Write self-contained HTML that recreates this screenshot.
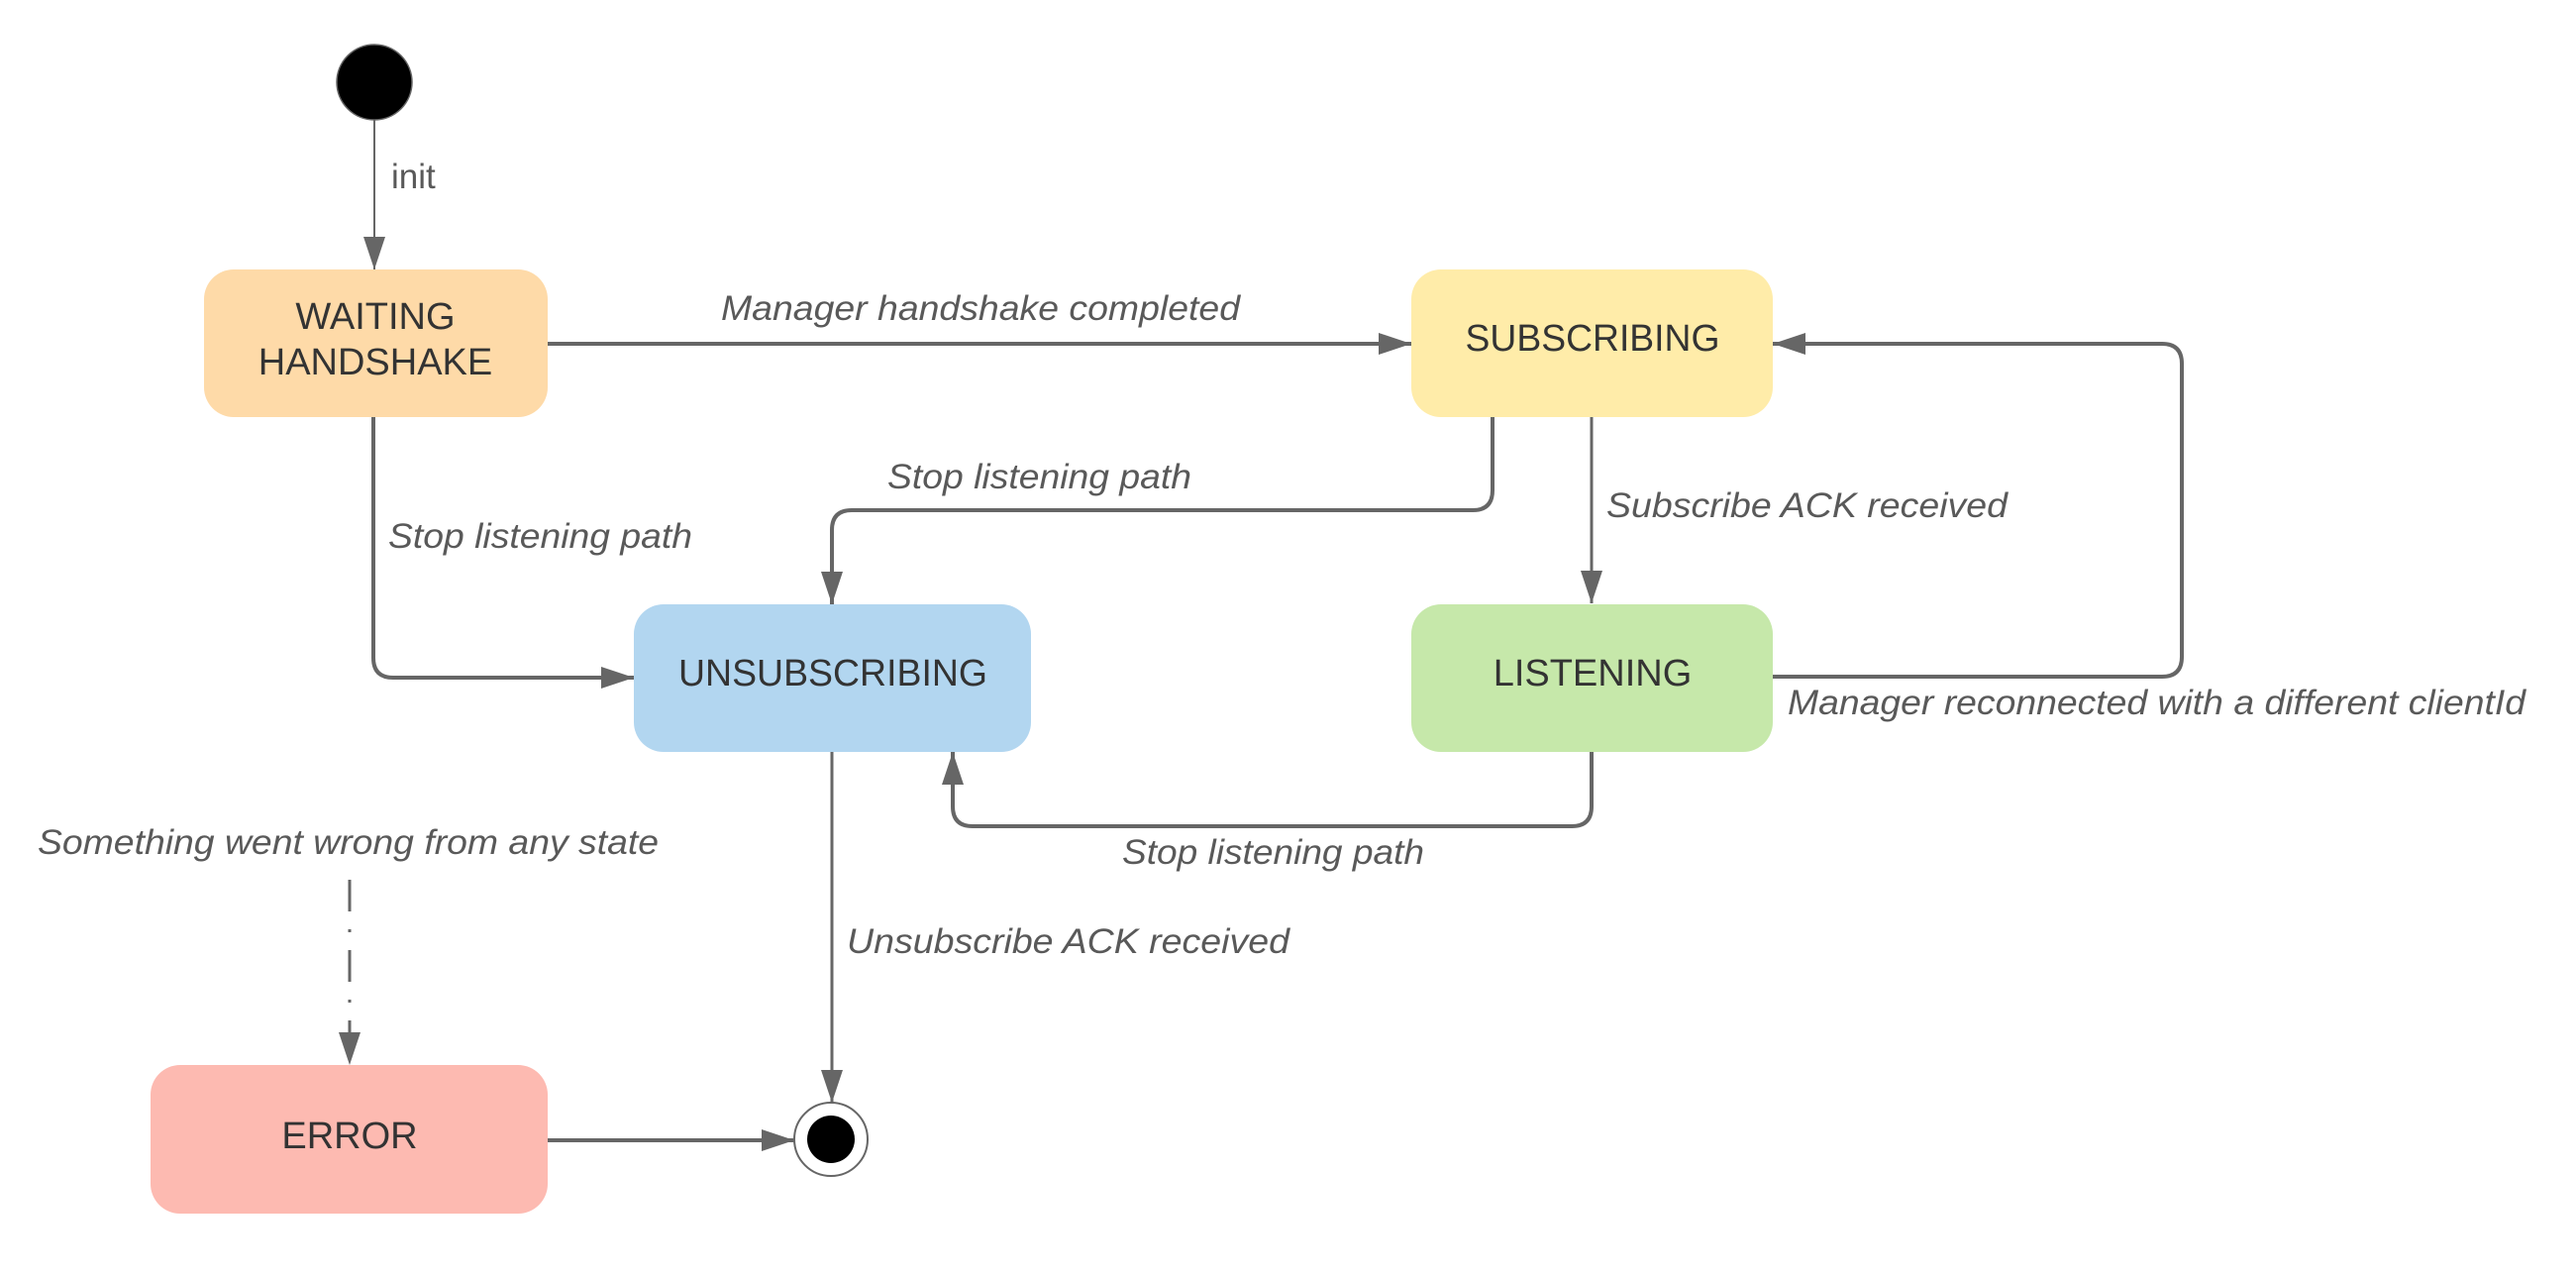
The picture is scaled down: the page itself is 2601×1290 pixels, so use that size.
<!DOCTYPE html>
<html><head><meta charset="utf-8"><style>
html,body{margin:0;padding:0;background:#fff}
svg{display:block}
.st{font-family:"Liberation Sans",sans-serif;font-size:38px;fill:#333;text-anchor:middle}
.lb{font-family:"Liberation Sans",sans-serif;font-size:35px;font-style:italic;fill:#595959}
.ln{fill:none;stroke:#666;stroke-width:4}
</style></head><body>
<svg width="2601" height="1290" viewBox="0 0 2601 1290" xmlns="http://www.w3.org/2000/svg">
<defs>
<marker id="a" viewBox="0 0 33 22" refX="33" refY="11" markerWidth="33" markerHeight="22" markerUnits="userSpaceOnUse" orient="auto">
<path d="M0,0 L33,11 L0,22 z" fill="#666"/></marker>
</defs>
<rect width="2601" height="1290" fill="#fff"/>
<rect x="206" y="272" width="347" height="149" rx="30" fill="#fedaa8"/>
<rect x="1425" y="272" width="365" height="149" rx="30" fill="#ffeca9"/>
<rect x="640" y="610" width="401" height="149" rx="30" fill="#b2d6f0"/>
<rect x="1425" y="610" width="365" height="149" rx="30" fill="#c6e8aa"/>
<rect x="152" y="1075" width="401" height="150" rx="30" fill="#fdbab1"/>
<text class="st" x="379" y="332">WAITING</text>
<text class="st" x="379" y="378">HANDSHAKE</text>
<text class="st" x="1608" y="354" textLength="257" lengthAdjust="spacingAndGlyphs">SUBSCRIBING</text>
<text class="st" x="841" y="692" textLength="312" lengthAdjust="spacingAndGlyphs">UNSUBSCRIBING</text>
<text class="st" x="1608" y="692">LISTENING</text>
<text class="st" x="353" y="1159">ERROR</text>
<circle cx="378" cy="83" r="38" fill="#000" stroke="#666" stroke-width="1.5"/>
<circle cx="839" cy="1150" r="37" fill="#fff" stroke="#666" stroke-width="2"/>
<circle cx="839" cy="1150" r="24" fill="#000"/>
<path d="M378,121 L378,272" fill="none" stroke="#666" stroke-width="2" marker-end="url(#a)"/>
<path class="ln" d="M553,347 L1425,347" marker-end="url(#a)"/>
<path class="ln" d="M377,421 L377,664 Q377,684 397,684 L640,684" marker-end="url(#a)"/>
<path class="ln" d="M1507,421 L1507,495 Q1507,515 1487,515 L860,515 Q840,515 840,535 L840,610" marker-end="url(#a)"/>
<path d="M1607,421 L1607,609" fill="none" stroke="#666" stroke-width="3" marker-end="url(#a)"/>
<path class="ln" d="M1790,683 L2183,683 Q2203,683 2203,663 L2203,367 Q2203,347 2183,347 L1790,347" marker-end="url(#a)"/>
<path class="ln" d="M1607,759 L1607,814 Q1607,834 1587,834 L982,834 Q962,834 962,814 L962,759" marker-end="url(#a)"/>
<path d="M840,759 L840,1113" fill="none" stroke="#666" stroke-width="3" marker-end="url(#a)"/>
<path d="M353,888 L353,1075" fill="none" stroke="#666" stroke-width="3" stroke-dasharray="32,18,3,18" marker-end="url(#a)"/>
<path class="ln" d="M553,1151 L802,1151" marker-end="url(#a)"/>
<text class="lb" x="395" y="190" style="font-style:normal">init</text>
<text class="lb" x="728" y="323" textLength="524" lengthAdjust="spacingAndGlyphs">Manager handshake completed</text>
<text class="lb" x="392" y="553" textLength="307" lengthAdjust="spacingAndGlyphs">Stop listening path</text>
<text class="lb" x="896" y="493" textLength="307" lengthAdjust="spacingAndGlyphs">Stop listening path</text>
<text class="lb" x="1622" y="522" textLength="405" lengthAdjust="spacingAndGlyphs">Subscribe ACK received</text>
<text class="lb" x="1805" y="721" textLength="745" lengthAdjust="spacingAndGlyphs">Manager reconnected with a different clientId</text>
<text class="lb" x="1133" y="872" textLength="305" lengthAdjust="spacingAndGlyphs">Stop listening path</text>
<text class="lb" x="855" y="962" textLength="447" lengthAdjust="spacingAndGlyphs">Unsubscribe ACK received</text>
<text class="lb" x="38" y="862" textLength="627" lengthAdjust="spacingAndGlyphs">Something went wrong from any state</text>
</svg>
</body></html>
